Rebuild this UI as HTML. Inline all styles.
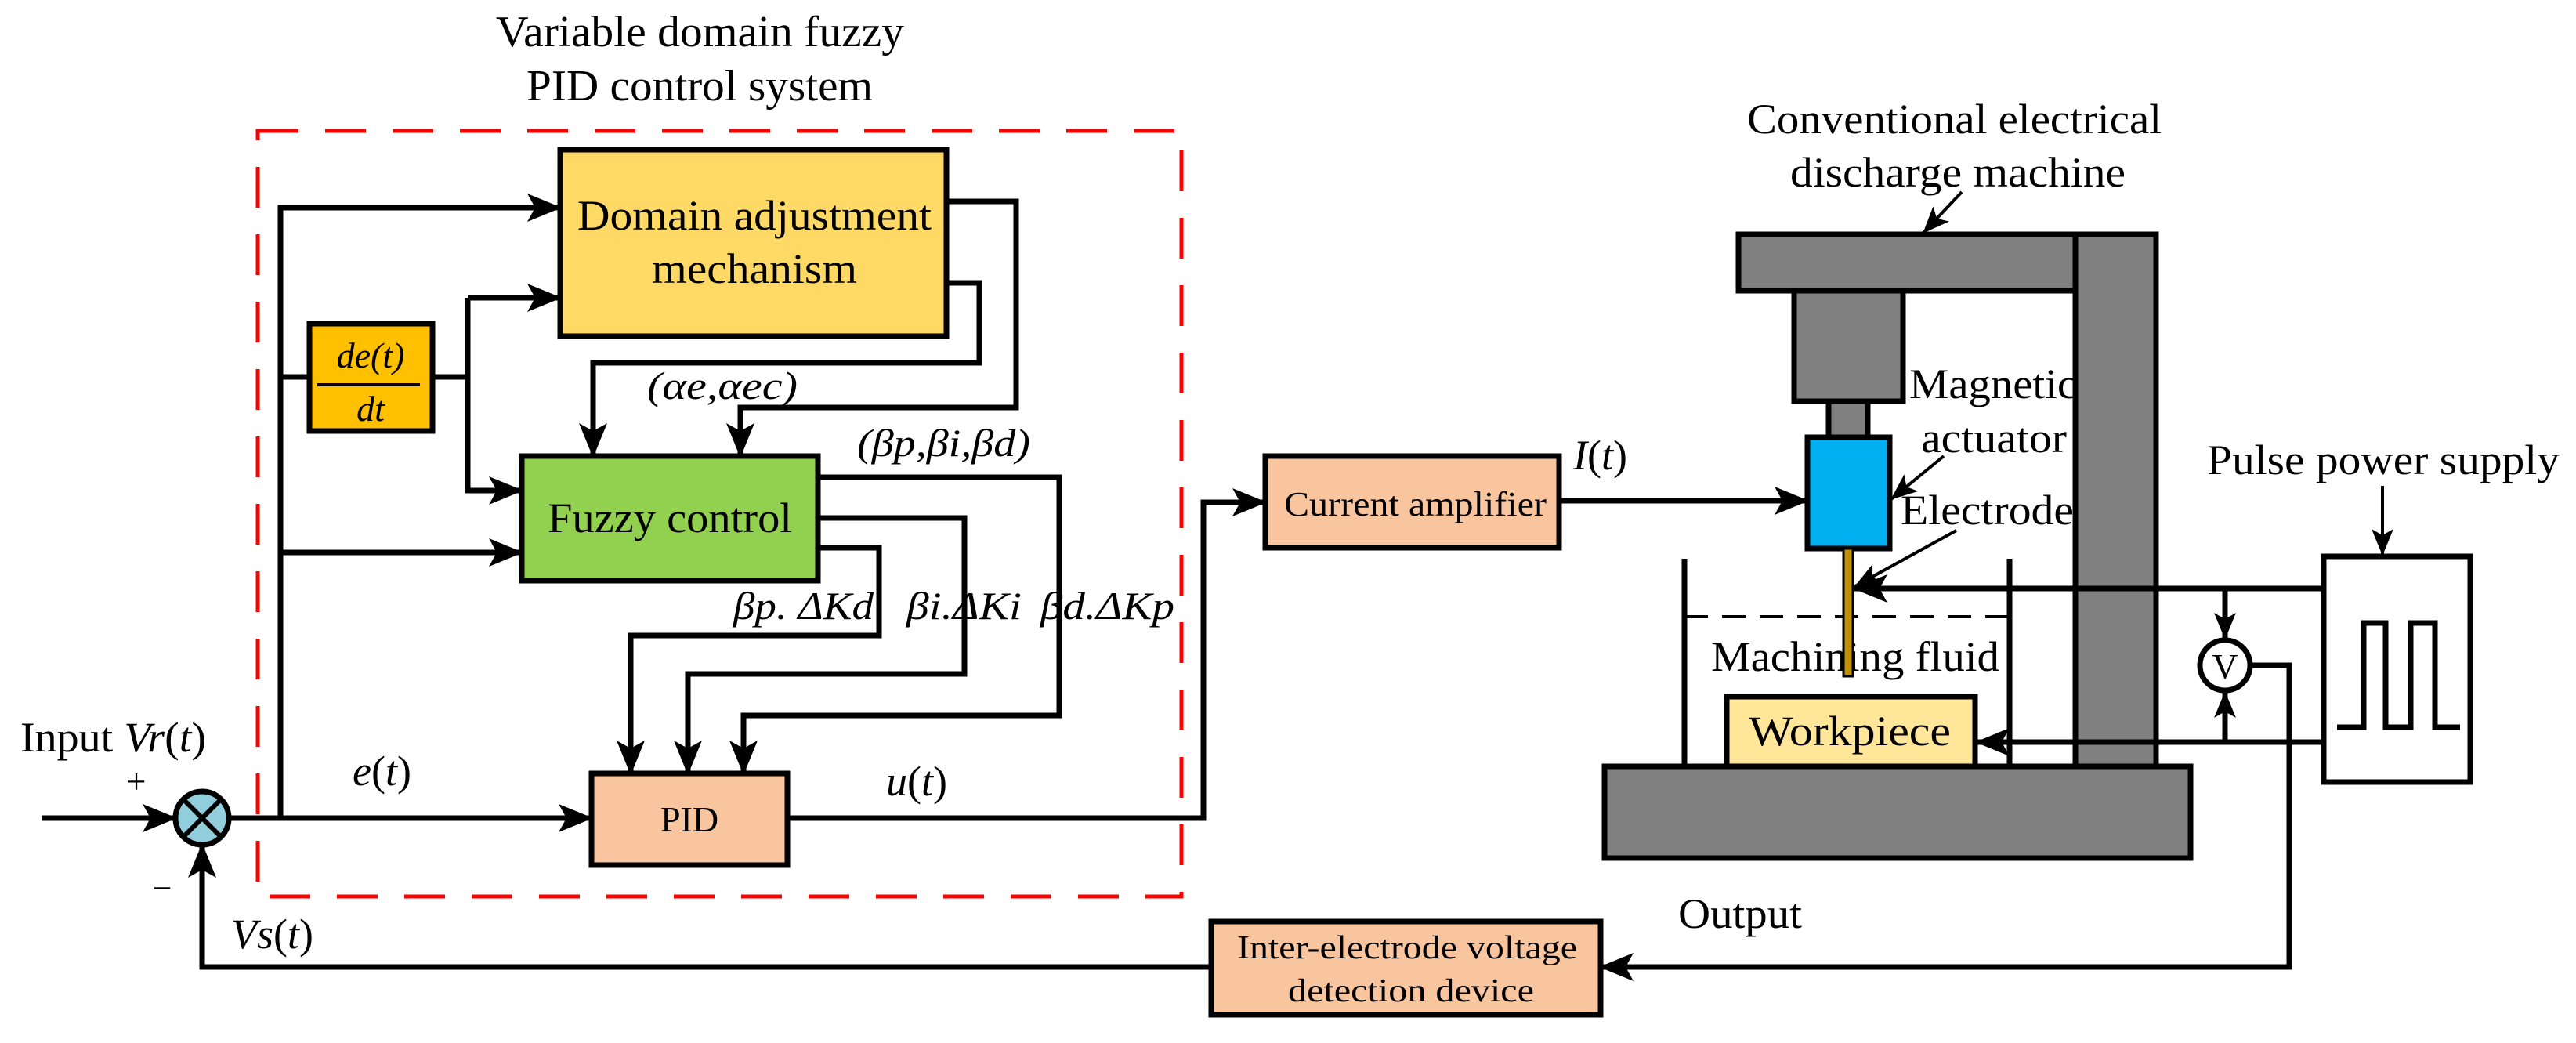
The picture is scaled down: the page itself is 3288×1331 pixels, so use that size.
<!DOCTYPE html>
<html><head><meta charset="utf-8"><style>
html,body{margin:0;padding:0;background:#fff}
svg{display:block}
text{font-family:"Liberation Serif","Times New Roman",serif;fill:#000}
</style></head><body>
<svg width="3288" height="1331" viewBox="0 0 3288 1331" xmlns="http://www.w3.org/2000/svg" font-family="Liberation Serif, serif">
<defs>
<marker id="a" markerUnits="userSpaceOnUse" markerWidth="46" markerHeight="40" refX="42" refY="20" orient="auto">
<path d="M0,2 L44,20 L0,38 L10,20z" fill="#000"/></marker>
<marker id="s" markerUnits="userSpaceOnUse" markerWidth="36" markerHeight="32" refX="33" refY="16" orient="auto">
<path d="M0,2 L34,16 L0,30 L8,16z" fill="#000"/></marker>
</defs>

<text x="633" y="59" font-size="56" textLength="521" lengthAdjust="spacingAndGlyphs">Variable domain fuzzy</text>
<text x="672" y="128" font-size="56" textLength="442" lengthAdjust="spacingAndGlyphs">PID control system</text>

<rect x="329" y="167" width="1179" height="977" fill="none" stroke="#FF0000" stroke-width="5" stroke-dasharray="52,34"/>

<g stroke="#000" stroke-width="7" fill="none">
<line x1="53" y1="1044" x2="224" y2="1044" marker-end="url(#a)"/>
<line x1="292" y1="1044" x2="755" y2="1044" marker-end="url(#a)"/>
<polyline points="358,1044 358,265 715,265" marker-end="url(#a)"/>
<line x1="358" y1="481" x2="395" y2="481"/>
<line x1="358" y1="705" x2="666" y2="705" marker-end="url(#a)"/>
<line x1="552" y1="481" x2="597" y2="481"/>
<polyline points="597,380 597,626 666,626" marker-end="url(#a)"/>
<line x1="597" y1="380" x2="715" y2="380" marker-end="url(#a)"/>
<polyline points="1208,257 1297,257 1297,520 945,520 945,582" marker-end="url(#a)"/>
<polyline points="1208,361 1250,361 1250,463 757,463 757,582" marker-end="url(#a)"/>
<polyline points="1044,609 1352,609 1352,913 949,913 949,987" marker-end="url(#a)"/>
<polyline points="1044,661 1231,661 1231,860 878,860 878,987" marker-end="url(#a)"/>
<polyline points="1044,699 1122,699 1122,811 805,811 805,987" marker-end="url(#a)"/>
<polyline points="1005,1044 1536,1044 1536,641 1615,641" marker-end="url(#a)"/>
<polyline points="1546,1234 258,1234 258,1078" marker-end="url(#a)"/>
<line x1="1990" y1="639" x2="2307" y2="639" marker-end="url(#a)"/>
</g>

<rect x="715" y="191" width="493" height="238" fill="#FFD966" stroke="#000" stroke-width="7"/>
<rect x="395" y="413" width="157" height="137" fill="#FFC000" stroke="#000" stroke-width="7"/>
<rect x="666" y="582" width="378" height="159" fill="#92D050" stroke="#000" stroke-width="7"/>
<rect x="755" y="987" width="250" height="117" fill="#F8C59F" stroke="#000" stroke-width="7"/>
<rect x="1615" y="582" width="375" height="117" fill="#F8C59F" stroke="#000" stroke-width="7"/>
<rect x="1546" y="1176" width="497" height="119" fill="#F8C59F" stroke="#000" stroke-width="7"/>

<circle cx="258" cy="1044" r="34" fill="#92CDDC" stroke="#000" stroke-width="7"/>
<line x1="234" y1="1020" x2="282" y2="1068" stroke="#000" stroke-width="6"/>
<line x1="282" y1="1020" x2="234" y2="1068" stroke="#000" stroke-width="6"/>

<text x="737" y="293" font-size="54" textLength="452" lengthAdjust="spacingAndGlyphs">Domain adjustment</text>
<text x="832" y="361" font-size="54" textLength="262" lengthAdjust="spacingAndGlyphs">mechanism</text>
<text x="473" y="469" font-size="46" font-style="italic" text-anchor="middle">de(t)</text>
<line x1="405" y1="491" x2="536" y2="491" stroke="#000" stroke-width="4"/>
<text x="473" y="537" font-size="46" font-style="italic" text-anchor="middle">dt</text>
<text x="699" y="679" font-size="54" textLength="312" lengthAdjust="spacingAndGlyphs">Fuzzy control</text>
<text x="880" y="1061" font-size="46" text-anchor="middle">PID</text>
<text x="1639" y="658" font-size="44" textLength="335" lengthAdjust="spacingAndGlyphs">Current amplifier</text>
<text x="1579" y="1223" font-size="42" textLength="434" lengthAdjust="spacingAndGlyphs">Inter-electrode voltage</text>
<text x="1644" y="1278" font-size="42" textLength="314" lengthAdjust="spacingAndGlyphs">detection device</text>

<text x="826" y="509" font-size="50" font-style="italic" textLength="192" lengthAdjust="spacingAndGlyphs">(αe,αec)</text>
<text x="1094" y="582" font-size="50" font-style="italic" textLength="221" lengthAdjust="spacingAndGlyphs">(βp,βi,βd)</text>
<text x="936" y="790" font-size="50" font-style="italic" textLength="179" lengthAdjust="spacingAndGlyphs">βp. ΔKd</text>
<text x="1157" y="790" font-size="50" font-style="italic" textLength="147" lengthAdjust="spacingAndGlyphs">βi.ΔKi</text>
<text x="1328" y="790" font-size="50" font-style="italic" textLength="171" lengthAdjust="spacingAndGlyphs">βd.ΔKp</text>
<text x="26" y="959" font-size="54" textLength="237" lengthAdjust="spacingAndGlyphs">Input <tspan font-style="italic">Vr</tspan>(<tspan font-style="italic">t</tspan>)</text>
<text x="174" y="1012" font-size="44" text-anchor="middle">+</text>
<text x="207" y="1148" font-size="44" text-anchor="middle">−</text>
<text x="450" y="1002" font-size="54"><tspan font-style="italic">e</tspan>(<tspan font-style="italic">t</tspan>)</text>
<text x="1131" y="1015" font-size="54"><tspan font-style="italic">u</tspan>(<tspan font-style="italic">t</tspan>)</text>
<text x="295" y="1210" font-size="54"><tspan font-style="italic">Vs</tspan>(<tspan font-style="italic">t</tspan>)</text>
<text x="2008" y="599" font-size="54"><tspan font-style="italic">I</tspan>(<tspan font-style="italic">t</tspan>)</text>

<text x="2437" y="508" font-size="54" textLength="214" lengthAdjust="spacingAndGlyphs">Magnetic</text>
<text x="2452" y="577" font-size="54" textLength="186" lengthAdjust="spacingAndGlyphs">actuator</text>
<text x="2426" y="669" font-size="54" textLength="221" lengthAdjust="spacingAndGlyphs">Electrode</text>
<g stroke="#000" stroke-width="7">
<rect x="2219" y="299" width="533" height="72" fill="#808080"/>
<rect x="2649" y="299" width="103" height="679" fill="#808080"/>
<rect x="2290" y="371" width="139" height="141" fill="#808080"/>
<rect x="2334" y="512" width="50" height="46" fill="#808080"/>
<rect x="2307" y="558" width="105" height="142" fill="#00B0F0"/>
<rect x="2048" y="978" width="748" height="117" fill="#808080"/>
<rect x="2204" y="889" width="317" height="89" fill="#FFE699"/>
<line x1="2150" y1="713" x2="2150" y2="981"/>
<line x1="2565" y1="713" x2="2565" y2="981"/>
<line x1="2150" y1="787" x2="2565" y2="787" stroke-width="4" stroke-dasharray="30,18"/>
<rect x="2966" y="710" width="187" height="288" fill="#fff"/>
</g>
<text x="2184" y="856" font-size="54" textLength="368" lengthAdjust="spacingAndGlyphs">Machining fluid</text>
<rect x="2353" y="700" width="12" height="163" fill="#BF9000" stroke="#000" stroke-width="3"/>
<text x="2232" y="951" font-size="54" textLength="258" lengthAdjust="spacingAndGlyphs">Workpiece</text>
<text x="2230" y="170" font-size="54" textLength="529" lengthAdjust="spacingAndGlyphs">Conventional electrical</text>
<text x="2285" y="238" font-size="54" textLength="428" lengthAdjust="spacingAndGlyphs">discharge machine</text>
<text x="2817" y="605" font-size="54" textLength="450" lengthAdjust="spacingAndGlyphs">Pulse power supply</text>
<text x="2142" y="1184" font-size="54" textLength="158" lengthAdjust="spacingAndGlyphs">Output</text>

<g stroke="#000" stroke-width="7" fill="none">
<line x1="2504" y1="245" x2="2455" y2="297" stroke-width="4" marker-end="url(#s)"/>
<line x1="2481" y1="582" x2="2414" y2="637" stroke-width="4" marker-end="url(#s)"/>
<line x1="2497" y1="677" x2="2368" y2="748" stroke-width="4" marker-end="url(#s)"/>
<line x1="3041" y1="620" x2="3041" y2="708" stroke-width="4" marker-end="url(#s)"/>
<line x1="2966" y1="751" x2="2367" y2="751" marker-end="url(#a)"/>
<line x1="2966" y1="947" x2="2523" y2="947" marker-end="url(#a)"/>
<line x1="2840" y1="751" x2="2840" y2="815" marker-end="url(#s)"/>
<line x1="2840" y1="947" x2="2840" y2="883" marker-end="url(#s)"/>
<polyline points="2874,849 2922,849 2922,1234 2043,1234" marker-end="url(#a)"/>
<polyline points="2983,928 3017,928 3017,795 3045,795 3045,928 3077,928 3077,795 3108,795 3108,928 3140,928"/>
</g>
<circle cx="2840" cy="849" r="32" fill="#fff" stroke="#000" stroke-width="7"/>
<text x="2840" y="866" font-size="46" text-anchor="middle">V</text>
</svg>
</body></html>
